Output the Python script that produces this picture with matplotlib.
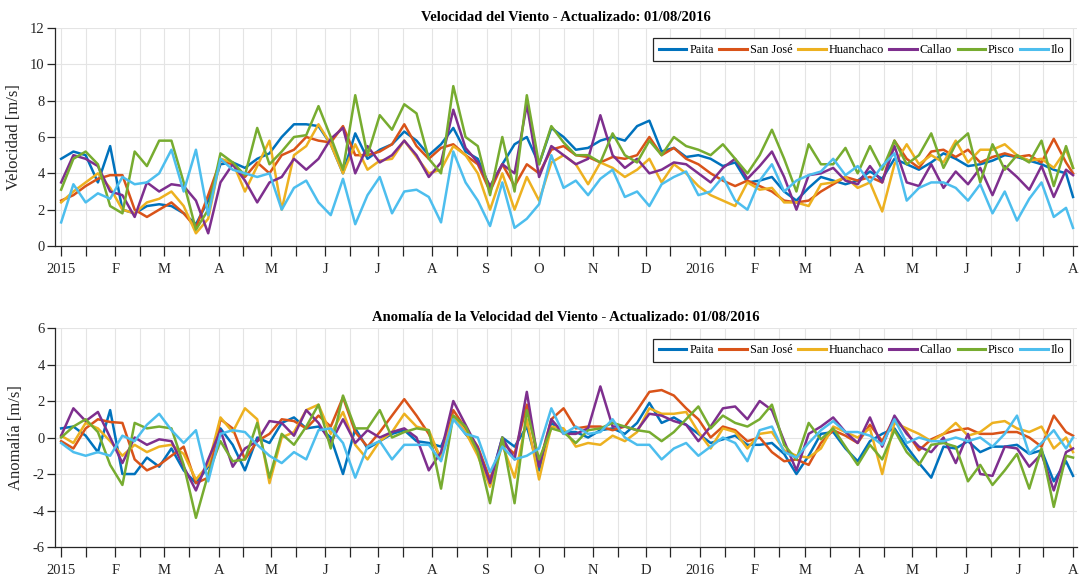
import matplotlib
matplotlib.use("Agg")
import matplotlib.pyplot as plt
import matplotlib.dates as mdates
import pandas as pd
import numpy as np
from datetime import datetime

# ---------------- data (weekly readings, Jan 2015 - Aug 2016) ----------------
dates = list(pd.date_range("2015-01-01", periods=83, freq="7D")) + [pd.Timestamp("2016-08-01")]

stations = ["Paita", "San José", "Huanchaco", "Callao", "Pisco", "Ilo"]
colors = ["#0072BD", "#D95319", "#EDB120", "#7E2F8E", "#77AC30", "#4DBEEE"]

paita_v = [4.8,5.2,5.0,3.5,5.5,2.0,1.8,2.2,2.3,2.2,1.8,1.2,2.5,4.5,4.6,4.3,4.8,5.1,6.0,6.7,6.7,6.6,5.6,4.0,6.2,4.8,5.3,
           5.6,6.3,5.8,5.0,5.6,6.5,5.2,4.8,3.2,4.5,5.6,6.0,4.5,6.5,6.0,5.3,5.4,5.8,6.0,5.8,6.6,6.9,5.2,5.4,4.9,5.0,4.8,
           4.4,4.6,3.5,3.6,3.8,3.0,2.5,3.2,3.8,3.6,3.4,3.6,4.1,3.7,4.8,4.5,4.2,4.6,5.1,4.8,4.4,4.5,4.7,5.0,4.9,4.7,4.5,4.2,4.0,2.7]
san_jose_v = [2.5,2.8,3.3,3.7,3.9,3.9,2.0,1.6,2.0,2.4,1.8,1.0,2.8,4.7,4.5,3.8,4.6,4.0,5.0,5.3,6.0,5.8,5.7,6.6,5.0,5.0,5.2,
              5.6,6.7,5.5,4.8,5.4,5.6,5.0,4.5,3.0,4.5,3.3,4.5,4.0,5.3,5.5,5.0,4.9,4.6,4.9,4.8,5.0,6.0,5.0,5.4,4.8,4.5,4.0,
              3.6,3.3,3.6,3.3,3.0,2.5,2.4,2.5,3.0,3.4,3.8,3.6,3.8,3.5,5.8,4.8,4.3,5.2,5.3,4.9,5.3,4.6,4.9,5.1,4.9,5.0,4.6,5.9,4.6,4.0]
huanchaco_v = [2.4,3.0,3.5,4.0,3.2,2.0,1.8,2.4,2.6,3.0,2.2,0.7,1.5,4.8,4.6,3.0,4.4,5.8,2.0,5.0,5.5,6.7,5.6,4.0,5.6,4.2,4.7,
               4.8,5.8,4.9,4.0,4.2,5.5,5.0,4.0,2.0,4.0,2.0,3.8,2.5,4.6,5.0,4.5,3.4,4.6,4.3,3.8,4.2,4.8,3.5,4.5,4.0,3.3,2.8,
               2.5,2.2,3.5,3.1,3.2,2.4,2.4,2.2,3.4,3.5,3.8,3.2,3.5,1.9,4.5,5.6,4.5,5.0,4.6,5.8,4.6,5.3,5.3,5.6,5.0,4.7,4.8,4.3,5.3,4.3]
callao_v = [3.5,5.0,4.8,4.4,3.0,2.8,1.6,3.5,3.0,3.4,3.3,2.5,0.7,3.5,4.5,3.6,2.4,3.5,3.8,4.8,4.2,4.8,5.9,6.5,4.0,5.5,4.6,
            5.0,5.8,5.0,3.8,4.6,7.5,5.4,4.6,3.3,4.5,4.0,7.8,3.8,5.5,5.0,4.5,4.8,7.2,5.0,4.3,4.8,4.0,4.2,4.6,4.5,4.0,3.5,
            4.3,4.8,3.7,4.4,5.2,3.8,2.0,3.9,4.0,4.3,3.6,3.4,4.4,3.5,5.5,3.5,3.3,4.5,3.2,4.1,3.4,4.3,2.8,4.4,3.8,3.1,4.4,2.7,4.2,3.9]
pisco_v = [3.1,4.8,5.2,4.5,2.2,1.8,5.2,4.4,5.8,5.8,3.5,0.9,2.0,5.1,4.6,3.9,6.5,4.5,5.2,6.0,6.1,7.7,6.0,4.2,8.3,5.0,7.2,
           6.4,7.8,7.3,4.8,4.0,8.8,6.0,5.5,2.8,6.0,3.0,8.3,4.5,6.6,5.7,5.0,5.0,4.6,6.2,5.0,4.6,5.8,5.0,6.0,5.5,5.3,5.0,
           5.6,4.8,4.0,5.0,6.4,4.8,3.0,5.6,4.5,4.5,5.4,4.0,5.5,4.2,5.8,4.5,5.0,6.2,4.3,5.6,6.2,3.5,5.6,4.2,5.0,4.6,5.8,3.3,5.5,4.3]
ilo_v = [1.3,3.4,2.4,2.9,2.6,3.8,3.4,3.5,4.0,5.3,3.0,5.3,1.7,4.8,4.2,4.0,3.8,4.0,2.0,3.2,3.6,2.4,1.7,3.7,1.2,2.8,3.8,
         1.8,3.0,3.1,2.7,1.3,5.2,3.5,2.5,1.1,3.5,1.0,1.5,2.3,5.0,3.2,3.6,2.8,3.7,4.2,2.7,3.0,2.2,3.4,3.8,4.1,2.8,3.0,
         3.8,2.5,2.0,3.6,4.5,3.0,3.6,3.9,4.1,4.8,3.9,4.4,3.5,4.4,5.1,2.5,3.2,3.5,3.5,3.2,2.5,3.4,1.8,3.0,1.4,2.6,3.5,1.6,2.1,1.0]

paita_a = [0.5,0.6,0.1,-0.8,1.5,-2.0,-2.0,-1.1,-1.6,-0.6,-1.8,-2.5,-1.6,0.5,-0.4,-1.8,0.0,-0.3,0.8,1.1,0.5,0.6,0.0,-2.0,0.5,-0.6,-0.2,
           0.2,0.4,-0.2,-0.3,-0.5,1.1,0.2,-0.6,-2.4,0.0,-0.5,0.6,-1.8,0.8,0.3,0.3,0.0,0.4,0.5,0.2,0.8,1.9,0.8,1.1,0.7,0.2,-0.3,
           -0.1,0.1,-0.4,-0.4,-0.3,-0.9,-2.0,-1.0,0.2,0.3,-0.6,-1.3,-0.2,0.2,0.5,-0.5,-1.4,-2.2,-0.5,-0.6,-0.2,-0.8,-0.5,-0.5,-0.4,-0.9,-0.7,-2.4,-1.3,-2.1]
san_jose_a = [-0.2,-0.6,0.5,1.0,0.85,0.8,-1.2,-1.8,-1.5,-1.0,-0.5,-2.5,-2.2,1.0,0.5,-1.2,-0.2,0.2,1.0,0.9,0.5,1.2,0.6,2.2,0.3,-0.5,0.3,
              1.2,2.1,1.2,0.2,-1.2,1.5,0.5,-0.5,-2.3,-0.3,-0.9,1.8,-1.5,1.0,1.6,0.5,0.6,0.6,0.4,0.6,1.5,2.5,2.6,2.3,1.6,1.0,0.0,
              0.6,0.4,-0.2,0.0,-0.8,-1.3,-1.2,-1.5,-0.3,0.4,0.1,-0.3,0.7,-0.2,1.1,0.3,-0.7,-0.1,0.2,0.4,0.5,0.2,0.2,0.3,0.3,0.0,-0.5,1.2,0.3,0.1]
huanchaco_a = [0.1,-0.3,0.8,0.5,-0.2,-1.0,-0.4,-0.8,-0.5,-0.4,-0.9,-2.3,-1.5,1.1,0.3,1.6,1.0,-2.5,0.0,0.3,1.5,1.8,0.2,1.4,-0.4,-1.2,-0.2,
               0.3,1.3,0.6,0.4,-1.2,1.2,0.3,-1.0,-2.7,-0.4,-2.2,1.0,-2.3,0.6,0.5,-0.5,-0.3,-0.4,0.1,-0.2,0.3,1.6,1.3,1.3,1.4,0.3,-0.6,
               0.5,0.3,-0.6,0.2,0.3,-0.7,-1.0,-1.1,-0.6,0.6,0.3,0.0,0.5,-2.0,0.8,0.5,0.2,-0.2,0.2,0.8,0.1,0.3,0.8,0.9,0.5,0.3,0.6,-0.6,0.0,-0.8]
callao_a = [0.1,1.6,0.9,1.4,0.0,-1.4,0.0,-0.4,-0.1,-0.2,-1.6,-2.9,-1.2,0.4,-1.6,-0.6,-0.2,0.9,0.8,0.1,1.5,0.8,-0.3,1.0,-0.3,0.4,0.0,
            0.3,0.5,0.0,-1.8,-0.8,2.0,0.7,-0.6,-2.5,0.0,-1.2,2.5,-1.6,1.0,0.2,0.2,0.5,2.8,0.6,0.6,0.4,1.3,1.2,0.9,0.7,-0.2,0.6,
            1.6,1.7,1.0,2.0,1.5,-0.2,-1.8,0.2,0.6,1.1,0.3,-0.3,1.1,-0.5,1.2,0.2,-0.5,-0.8,0.0,-1.4,0.2,-2.0,-2.1,-0.5,-0.6,-1.6,-0.9,-2.9,-0.8,-0.6]
pisco_a = [0.0,0.6,1.0,0.3,-1.5,-2.6,0.8,0.5,0.6,0.5,-1.5,-4.4,-2.0,-0.2,-1.3,-1.2,0.8,-2.2,0.2,-0.4,0.6,1.8,-0.6,2.3,0.5,0.5,1.5,
           0.0,0.3,0.5,0.4,-2.8,1.2,0.6,-0.8,-3.6,0.0,-3.6,1.5,-1.2,0.5,0.3,-0.3,0.4,0.5,0.8,0.6,0.4,0.3,-0.2,0.3,1.0,1.7,0.5,
           1.2,0.8,0.6,1.0,1.8,-0.4,-1.2,0.8,-0.1,0.5,-0.5,-1.5,-0.4,-1.2,0.4,-0.8,-1.5,-0.4,-0.3,-0.5,-2.4,-1.5,-2.6,-1.8,-0.9,-2.8,-0.6,-3.8,-1.0,-1.1]
ilo_a = [-0.3,-0.8,-1.0,-0.8,-1.0,0.1,-0.2,0.7,1.3,0.4,-0.3,0.4,-2.4,0.2,0.4,0.3,-0.4,-1.0,-1.4,-0.8,-1.2,0.4,0.5,-0.3,-2.2,-0.5,-0.2,
         -1.2,-0.4,-0.4,-0.4,-1.3,1.0,0.2,0.0,-1.9,-0.5,-1.2,-1.0,-0.6,1.6,0.2,0.6,0.2,0.3,1.0,0.0,-0.4,-0.4,-1.2,-0.6,-0.3,-1.0,-0.5,
         0.0,-0.3,-1.3,0.4,0.6,-0.8,-1.1,-0.3,0.4,0.9,0.3,0.3,0.1,-0.4,1.0,-0.3,0.0,-0.2,-0.2,0.0,-0.2,0.0,-0.5,0.2,1.2,-0.9,-0.3,0.4,-0.6,0.0]

speed = [paita_v, san_jose_v, huanchaco_v, callao_v, pisco_v, ilo_v]
anom = [paita_a, san_jose_a, huanchaco_a, callao_a, pisco_a, ilo_a]

titles = ["Velocidad del Viento - Actualizado: 01/08/2016",
          "Anomalía de la Velocidad del Viento - Actualizado: 01/08/2016"]
ylabels = ["Velocidad [m/s]", "Anomalía [m/s]"]
month_letters = "EFMAMJJASOND"

# ---------------- style ----------------
plt.rcParams["font.family"] = ["Liberation Serif", "DejaVu Serif"]
plt.rcParams["axes.unicode_minus"] = False
axc = "#262626"

fig = plt.figure(figsize=(10.85, 5.83), dpi=100)
ax1 = fig.add_axes([0.0507, 0.578, 0.9419, 0.374])
ax2 = fig.add_axes([0.0507, 0.0617, 0.9419, 0.3757])


def fmt(x, pos=None):
    d = mdates.num2date(x)
    return str(d.year) if d.month == 1 else month_letters[d.month - 1]


for ax, data, title, ylab, ylim, yt in [
    (ax1, speed, titles[0], ylabels[0], (0, 12), np.arange(0, 13, 2)),
    (ax2, anom, titles[1], ylabels[1], (-6, 6), np.arange(-6, 7, 2)),
]:
    for name, col, vals in zip(stations, colors, data):
        ax.plot(dates, vals, color=col, lw=1.8, label=name, solid_joinstyle="round")
    ax.set_xlim(datetime(2014, 12, 28, 12), datetime(2016, 8, 3, 6))
    ax.set_ylim(*ylim)
    ax.set_yticks(yt)
    ax.xaxis.set_major_locator(mdates.MonthLocator())
    ax.xaxis.set_minor_locator(mdates.MonthLocator(bymonthday=15))
    ax.xaxis.set_major_formatter(plt.FuncFormatter(fmt))
    ax.grid(True, which="both", color="#e4e4e4", lw=0.8)
    ax.set_axisbelow(True)
    for s in ["top", "right"]:
        ax.spines[s].set_visible(False)
    for s in ["left", "bottom"]:
        ax.spines[s].set_color(axc)
        ax.spines[s].set_linewidth(0.9)
    ax.tick_params(axis="x", which="both", direction="out", length=7.5, width=0.9,
                   color=axc, labelcolor=axc, labelsize=10.5, pad=5)
    ax.tick_params(axis="y", direction="out", length=5.5, width=0.9,
                   color=axc, labelcolor=axc, labelsize=10.5, pad=2)
    ax.set_ylabel(ylab, fontsize=12, color=axc, labelpad=6)
    ax.set_title(title, fontsize=10.5, fontweight="bold", pad=5)
    leg = ax.legend(loc="upper right", bbox_to_anchor=(0.9932, 0.952), ncol=6, fontsize=8.8,
                    frameon=True, fancybox=False, edgecolor=axc, framealpha=1,
                    handlelength=2.25, handletextpad=0.25, columnspacing=0.45,
                    borderpad=0.45, borderaxespad=0.0)
    leg.get_frame().set_linewidth(0.9)
    for line in leg.get_lines():
        line.set_linewidth(2.2)

fig.savefig("out.png", dpi=100)
